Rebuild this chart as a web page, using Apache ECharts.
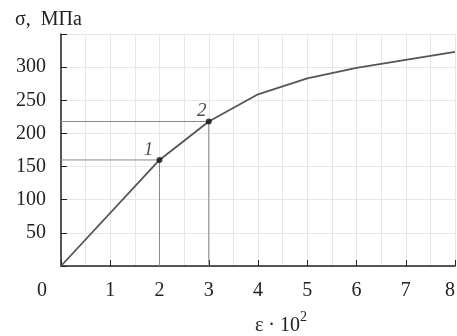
<!DOCTYPE html>
<html>
<head>
<meta charset="utf-8">
<script src="https://cdn.jsdelivr.net/npm/echarts@6/dist/echarts.min.js"></script>
<style>
  html, body { margin: 0; padding: 0; background: #fff; }
  #chart { width: 457px; height: 336px; }
</style>
</head>
<body>
<div id="chart"></div>
<script>
// strain (x 10^2) and stress (MPa)
const strain = [0, 2, 3, 4, 5, 6, 7, 8]
const stress = [0, 160, 218, 259, 283, 299, 311, 323]
// marked points 1 and 2
const pointNames = ['1', '2']
const pointStrain = [2, 3]
const pointStress = [160, 218]

const serif = 'Liberation Serif, Times New Roman, serif'
const labelOffsets = [[-11, -10], [-7, -10]]
const myChart = echarts.init(document.getElementById('chart'))

const guideSeries = pointStrain.map((x, i) => ({
  type: 'line',
  data: [[0, pointStress[i]], [x, pointStress[i]], [x, 0]],
  symbol: 'none',
  lineStyle: { color: '#8a8a8a', width: 1 },
  silent: true,
  z: 2
}))

myChart.setOption({
  animation: false,
  grid: { left: 61, right: 2, top: 34, bottom: 70, outerBoundsMode: 'none', containLabel: false },
  title: {
    text: 'σ,  МПа',
    left: 10, top: 5,
    textStyle: { fontFamily: serif, fontSize: 20, fontWeight: 'normal', color: '#222' }
  },
  graphic: [{
    type: 'text', left: 37, top: 281,
    style: { text: '0', font: '20px ' + serif, fill: '#222' }
  }],
  xAxis: {
    type: 'value', min: 0, max: 8, interval: 1,
    name: '{a|ε · 10}{s|2}', nameLocation: 'middle', nameGap: 44,
    nameTextStyle: {
      padding: [0, 0, 0, 46],
      rich: {
        a: { fontFamily: serif, fontSize: 20, color: '#222', lineHeight: 26, verticalAlign: 'bottom' },
        s: { fontFamily: serif, fontSize: 14, color: '#222', lineHeight: 26, verticalAlign: 'top' }
      }
    },
    axisLine: { lineStyle: { color: '#222', width: 1.5 } },
    axisTick: { inside: true, length: 6, lineStyle: { color: '#222' } },
    axisLabel: {
      fontFamily: serif, fontSize: 20, color: '#222', margin: 15,
      alignMaxLabel: 'right',
      formatter: v => (v === 0 ? '' : String(v))
    },
    splitLine: { show: true, lineStyle: { color: '#e6e6e6' } },
    minorTick: { show: false, splitNumber: 2 },
    minorSplitLine: { show: true, lineStyle: { color: '#e6e6e6' } }
  },
  yAxis: {
    type: 'value', min: 0, max: 350, interval: 50,
    axisLine: { show: true, lineStyle: { color: '#222', width: 1.5 } },
    axisTick: { show: true, inside: true, length: 6, lineStyle: { color: '#222' } },
    axisLabel: {
      fontFamily: serif, fontSize: 20, color: '#222', margin: 15,
      formatter: v => (v === 0 || v === 350 ? '' : String(v))
    },
    splitLine: { show: true, lineStyle: { color: '#e6e6e6' } }
  },
  series: [
    ...guideSeries,
    {
      type: 'line',
      data: strain.map((x, i) => [x, stress[i]]),
      symbol: 'none',
      lineStyle: { color: '#555', width: 1.8 },
      z: 3
    },
    {
      type: 'scatter',
      data: pointStrain.map((x, i) => ({
        value: [x, pointStress[i]],
        name: pointNames[i],
        label: { offset: labelOffsets[i] }
      })),
      symbolSize: 6,
      itemStyle: { color: '#111' },
      label: {
        show: true, position: 'inside',
        formatter: p => p.name,
        fontFamily: serif, fontSize: 19, fontStyle: 'italic', color: '#222'
      },
      z: 4
    }
  ]
})
</script>
</body>
</html>
